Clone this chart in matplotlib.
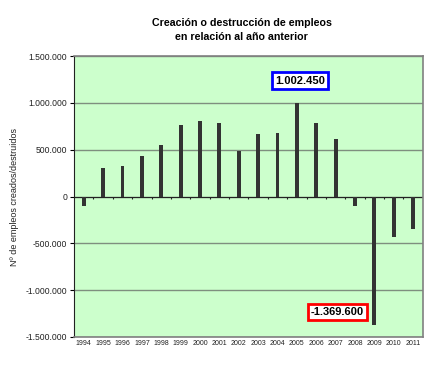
import matplotlib.pyplot as plt
import numpy as np

plt.rcParams['font.family'] = ['Liberation Sans', 'DejaVu Sans']

# Datos: creación/destrucción de empleos respecto al año anterior
years = ['1994', '1995', '1996', '1997', '1998', '1999', '2000', '2001', '2002',
         '2003', '2004', '2005', '2006', '2007', '2008', '2009', '2010', '2011']
values = [-100000, 307000, 329000, 432000, 553000, 768000, 807000, 782000, 486000,
          668000, 679000, 1002450, 782000, 610000, -96000, -1369600, -435000, -349000]
yticks = [-1500000, -1000000, -500000, 0, 500000, 1000000, 1500000]


def fmt_es(v):
    s = f"{abs(int(v)):,}".replace(",", ".")
    return "-" + s if v < 0 else s


fig = plt.figure(figsize=(4.28, 3.67), dpi=100)
ax = fig.add_axes([0.173, 0.082, 0.815, 0.765])
ax.set_facecolor('#CCFFCC')

x = np.arange(len(years))
ax.bar(x, values, width=0.2, color='#333333', zorder=3)

ax.set_xlim(-0.5, len(years) - 0.5)
ax.set_ylim(-1500000, 1500000)
ax.set_yticks(yticks)
ax.set_yticklabels([fmt_es(v) for v in yticks], fontsize=6.2, color='#222222')
ax.set_xticks(x)
ax.set_xticklabels(years, fontsize=5, color='#222222')
ax.tick_params(axis='x', length=0, pad=2)
ax.tick_params(axis='y', length=3, width=0.8, pad=2)

ax.grid(axis='y', color='#7f8f7f', linewidth=1.0, zorder=1)

# eje de categorías en el cero, con marcas entre años
ax.axhline(0, color='#222222', linewidth=0.8, zorder=2)
ax.vlines(x[:-1] + 0.5, -25000, 0, color='#222222', linewidth=0.8, zorder=2)

for side in ['top', 'right', 'bottom']:
    ax.spines[side].set_color('#808080')
    ax.spines[side].set_linewidth(1.2)
ax.spines['left'].set_color('#222222')
ax.spines['left'].set_linewidth(0.8)

ax.set_ylabel('Nº de empleos creados/destruidos', fontsize=6.5, color='#222222', labelpad=5)

fig.text(0.565, 0.918, 'Creación o destrucción de empleos\nen relación al año anterior',
         ha='center', va='center', fontsize=7.7, fontweight='bold', linespacing=1.4)

imax = int(np.argmax(values))
imin = int(np.argmin(values))
ax.text(imax + 0.15, 1239000, fmt_es(values[imax]), ha='center', va='center',
        fontsize=8, fontweight='bold',
        bbox=dict(boxstyle='square,pad=0.3', facecolor='white', edgecolor='#0000FF', linewidth=2))
ax.text(imin - 1.9, -1234000, fmt_es(values[imin]), ha='center', va='center',
        fontsize=8, fontweight='bold',
        bbox=dict(boxstyle='square,pad=0.3', facecolor='white', edgecolor='#FF0000', linewidth=2))

fig.savefig('out.png', dpi=100)
